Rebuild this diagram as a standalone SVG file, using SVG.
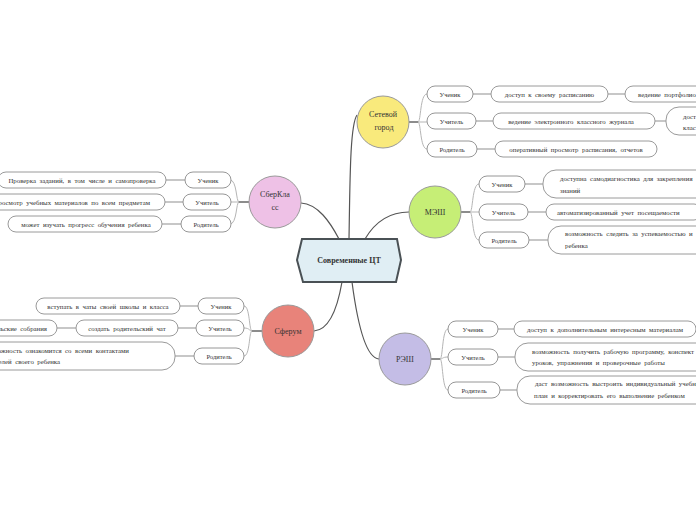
<svg xmlns="http://www.w3.org/2000/svg" width="696" height="520" viewBox="0 0 696 520">
<style>
text{font-family:"Liberation Serif","Times New Roman",serif;fill:#333}
.c{stroke:#9a9a9a;stroke-width:1}
.lbl{font-size:8px;text-anchor:middle}
.pill{fill:#fff;stroke:#8a8a8a;stroke-width:0.9}
.pt{font-size:6.5px;text-anchor:middle}
.leaf{fill:#fff;stroke:#9a9a9a;stroke-width:1}
.lt{font-size:6.8px;word-spacing:1.8px}
.m{text-anchor:middle}
.e{text-anchor:end}
.main{fill:none;stroke:#555;stroke-width:1.2}
.br{fill:none;stroke:#b5b5b5;stroke-width:1}
.stem{fill:none;stroke:#666;stroke-width:1.5}
.lc{fill:none;stroke:#b5b5b5;stroke-width:1.5}
</style>
<rect width="696" height="520" fill="#fff"/>
<g id="connectors">
<path class="main" d="M349,239 C350,180 350,125 357,115"/>
<path class="main" d="M365,239 C375,222 390,212 409,212"/>
<path class="main" d="M301,203 C318,204 330,222 339,239"/>
<path class="main" d="M342,282 C338,305 330,330 314,331"/>
<path class="main" d="M352,282 C357,320 365,358 379,359"/>
<path class="stem" d="M409,122 H418"/>
<path class="br" d="M418,122 C421,122 420,94 427,94 M418,122 H427 M418,122 C421,122 420,149 427,149"/>
<path class="stem" d="M461,212 H470"/>
<path class="br" d="M470,212 C473,212 472,184 479,184 M470,212 H479 M470,212 C473,212 472,240 479,240"/>
<path class="stem" d="M431,359 H440"/>
<path class="br" d="M440,359 C443,359 442,329 448,329 M440,359 C443,359 442,357 448,357 M440,359 C443,359 442,390 448,390"/>
<path class="stem" d="M249,202 H239"/>
<path class="br" d="M239,202 C236,202 237,180 230,180 M239,202 H230 M239,202 C236,202 237,224 230,224"/>
<path class="stem" d="M262,331 H252"/>
<path class="br" d="M252,331 C249,331 250,306 244,306 M252,331 C249,331 250,328 244,328 M252,331 C249,331 250,356 244,356"/>
<path class="lc" d="M473,94 H491 M608,94 H625 M476,121 H493 M655,121 H666 M477,149 H495"/>
<path class="lc" d="M525,184 H543 M528,212 H546 M529,240 H548"/>
<path class="lc" d="M498,329 H514 M498,357 H515 M500,390 H517"/>
<path class="lc" d="M185,180 H166 M183,202 H165 M181,224 H162"/>
<path class="lc" d="M198,306 H180 M196,328 H178 M76,328 H57 M194,356 H175"/>
</g>
<g id="center">
<polygon points="302,239 397,239 401,260 396,282 303,282 297,260" fill="#e0eef4" stroke="#4a5155" stroke-width="2"/>
<text x="349" y="263" class="m" style="font-size:8px;font-weight:bold">Современные ЦТ</text>
</g>
<g id="setevoy">
<circle class="c" cx="383" cy="122" r="26" fill="#f9ea7c"/>
<text class="lbl" x="383" y="117">Сетевой</text>
<text class="lbl" x="384" y="130">город</text>
</g>
<g id="setevoy-uchenik"><rect class="pill" x="427" y="86" width="46" height="16" rx="8"/><text class="pt" x="450" y="96.5">Ученик</text></g>
<g id="setevoy-uchitel"><rect class="pill" x="427" y="113" width="49" height="16" rx="8"/><text class="pt" x="451.5" y="123.5">Учитель</text></g>
<g id="setevoy-roditel"><rect class="pill" x="427" y="141" width="50" height="16" rx="8"/><text class="pt" x="452" y="151.5">Родитель</text></g>
<g id="setevoy-leaf1"><rect class="leaf" x="491" y="86" width="117" height="16" rx="8"/><text class="lt m" x="549.5" y="96.5">доступ к своему расписанию</text></g>
<g id="setevoy-leaf2"><rect class="leaf" x="625" y="86" width="100" height="16" rx="8"/><text class="lt" x="638" y="96.5">ведение портфолио</text></g>
<g id="setevoy-leaf3"><rect class="leaf" x="493" y="113" width="162" height="16" rx="8"/><text class="lt m" x="571" y="123.5">ведение электронного классного журнала</text></g>
<g id="setevoy-leaf4"><rect class="leaf" x="666" y="107" width="60" height="28" rx="13"/><text class="lt" x="683" y="119">дост</text><text class="lt" x="683" y="130">клас</text></g>
<g id="setevoy-leaf5"><rect class="leaf" x="495" y="141" width="162" height="16" rx="8"/><text class="lt m" x="576" y="151.5">оперативный просмотр расписания, отчетов</text></g>
<g id="mesh">
<circle class="c" cx="435" cy="212" r="26" fill="#c6ee76"/>
<text class="lbl" x="435" y="215">МЭШ</text>
</g>
<g id="mesh-uchenik"><rect class="pill" x="479" y="176" width="46" height="16" rx="8"/><text class="pt" x="502" y="186.5">Ученик</text></g>
<g id="mesh-uchitel"><rect class="pill" x="479" y="204" width="49" height="16" rx="8"/><text class="pt" x="503.5" y="214.5">Учитель</text></g>
<g id="mesh-roditel"><rect class="pill" x="479" y="232" width="50" height="16" rx="8"/><text class="pt" x="504" y="242.5">Родитель</text></g>
<g id="mesh-leaf1"><rect class="leaf" x="543" y="170" width="180" height="28" rx="13"/><text class="lt" x="560" y="181">доступна самодиагностика для закрепления</text><text class="lt" x="560" y="192.5">знаний</text></g>
<g id="mesh-leaf2"><rect class="leaf" x="546" y="204" width="156" height="16" rx="8"/><text class="lt" x="557" y="214.5">автоматизированный учет посещаемости</text></g>
<g id="mesh-leaf3"><rect class="leaf" x="548" y="226" width="180" height="28" rx="13"/><text class="lt" x="565" y="236">возможность следить за успеваемостью и</text><text class="lt" x="565" y="247.5">ребенка</text></g>
<g id="resh">
<circle class="c" cx="405" cy="359" r="26" fill="#c4bde6"/>
<text class="lbl" x="405" y="362">РЭШ</text>
</g>
<g id="resh-uchenik"><rect class="pill" x="448" y="321" width="50" height="16" rx="8"/><text class="pt" x="473" y="331.5">Ученик</text></g>
<g id="resh-uchitel"><rect class="pill" x="448" y="349" width="50" height="16" rx="8"/><text class="pt" x="473" y="359.5">Учитель</text></g>
<g id="resh-roditel"><rect class="pill" x="448" y="382" width="52" height="16" rx="8"/><text class="pt" x="474" y="392.5">Родитель</text></g>
<g id="resh-leaf1"><rect class="leaf" x="514" y="321" width="182" height="16" rx="8"/><text class="lt" x="527" y="331.5">доступ к дополнительным интересным материалам</text></g>
<g id="resh-leaf2"><rect class="leaf" x="515" y="343" width="210" height="28" rx="13"/><text class="lt" x="532" y="353.5">возможность получить рабочую программу, конспект</text><text class="lt" x="532" y="365">уроков, упражнения и проверочные работы</text></g>
<g id="resh-leaf3"><rect class="leaf" x="517" y="376" width="210" height="28" rx="13"/><text class="lt" x="535" y="386">даст возможность выстроить индивидуальный учебный</text><text class="lt" x="534" y="397.5">план  и корректировать его выполнение ребенком</text></g>
<g id="sberklass">
<circle class="c" cx="275" cy="202" r="26" fill="#eec1e6"/>
<text class="lbl" x="275" y="197">СберКла</text>
<text class="lbl" x="275" y="210">сс</text>
</g>
<g id="sber-uchenik"><rect class="pill" x="185" y="172" width="46" height="16" rx="8"/><text class="pt" x="208" y="182.5">Ученик</text></g>
<g id="sber-uchitel"><rect class="pill" x="183" y="194" width="48" height="16" rx="8"/><text class="pt" x="207" y="204.5">Учитель</text></g>
<g id="sber-roditel"><rect class="pill" x="181" y="216" width="50" height="16" rx="8"/><text class="pt" x="206" y="226.5">Родитель</text></g>
<g id="sber-leaf1"><rect class="leaf" x="-2" y="172" width="168" height="16" rx="8"/><text class="lt m" x="82" y="182.5">Проверка заданий, в том числе и самопроверка</text></g>
<g id="sber-leaf2"><rect class="leaf" x="-20" y="194" width="185" height="16" rx="8"/><text class="lt e" x="150" y="204.5">просмотр учебных материалов по всем предметам</text></g>
<g id="sber-leaf3"><rect class="leaf" x="8" y="216" width="154" height="16" rx="8"/><text class="lt m" x="86" y="226.5">может изучать прогресс обучения ребенка</text></g>
<g id="sferum">
<circle class="c" cx="288" cy="331" r="26" fill="#e8837a"/>
<text class="lbl" x="288" y="334">Сферум</text>
</g>
<g id="sferum-uchenik"><rect class="pill" x="198" y="298" width="46" height="16" rx="8"/><text class="pt" x="221" y="308.5">Ученик</text></g>
<g id="sferum-uchitel"><rect class="pill" x="196" y="320" width="48" height="16" rx="8"/><text class="pt" x="220" y="330.5">Учитель</text></g>
<g id="sferum-roditel"><rect class="pill" x="194" y="348" width="50" height="16" rx="8"/><text class="pt" x="219" y="358.5">Родитель</text></g>
<g id="sferum-leaf1"><rect class="leaf" x="36" y="298" width="144" height="16" rx="8"/><text class="lt m" x="108" y="308.5">вступать в чаты своей школы и класса</text></g>
<g id="sferum-leaf2"><rect class="leaf" x="76" y="320" width="102" height="16" rx="8"/><text class="lt m" x="127" y="330.5">создать родительский чат</text></g>
<g id="sferum-leaf3"><rect class="leaf" x="-40" y="320" width="97" height="16" rx="8"/><text class="lt e" x="47" y="330.5">родительские собрания</text></g>
<g id="sferum-leaf4"><rect class="leaf" x="-40" y="342" width="215" height="28" rx="13"/><text class="lt e" x="129" y="352.5">возможность ознакомится со всеми контактами</text><text class="lt e" x="60" y="364">родителей своего ребенка</text></g>
</svg>
